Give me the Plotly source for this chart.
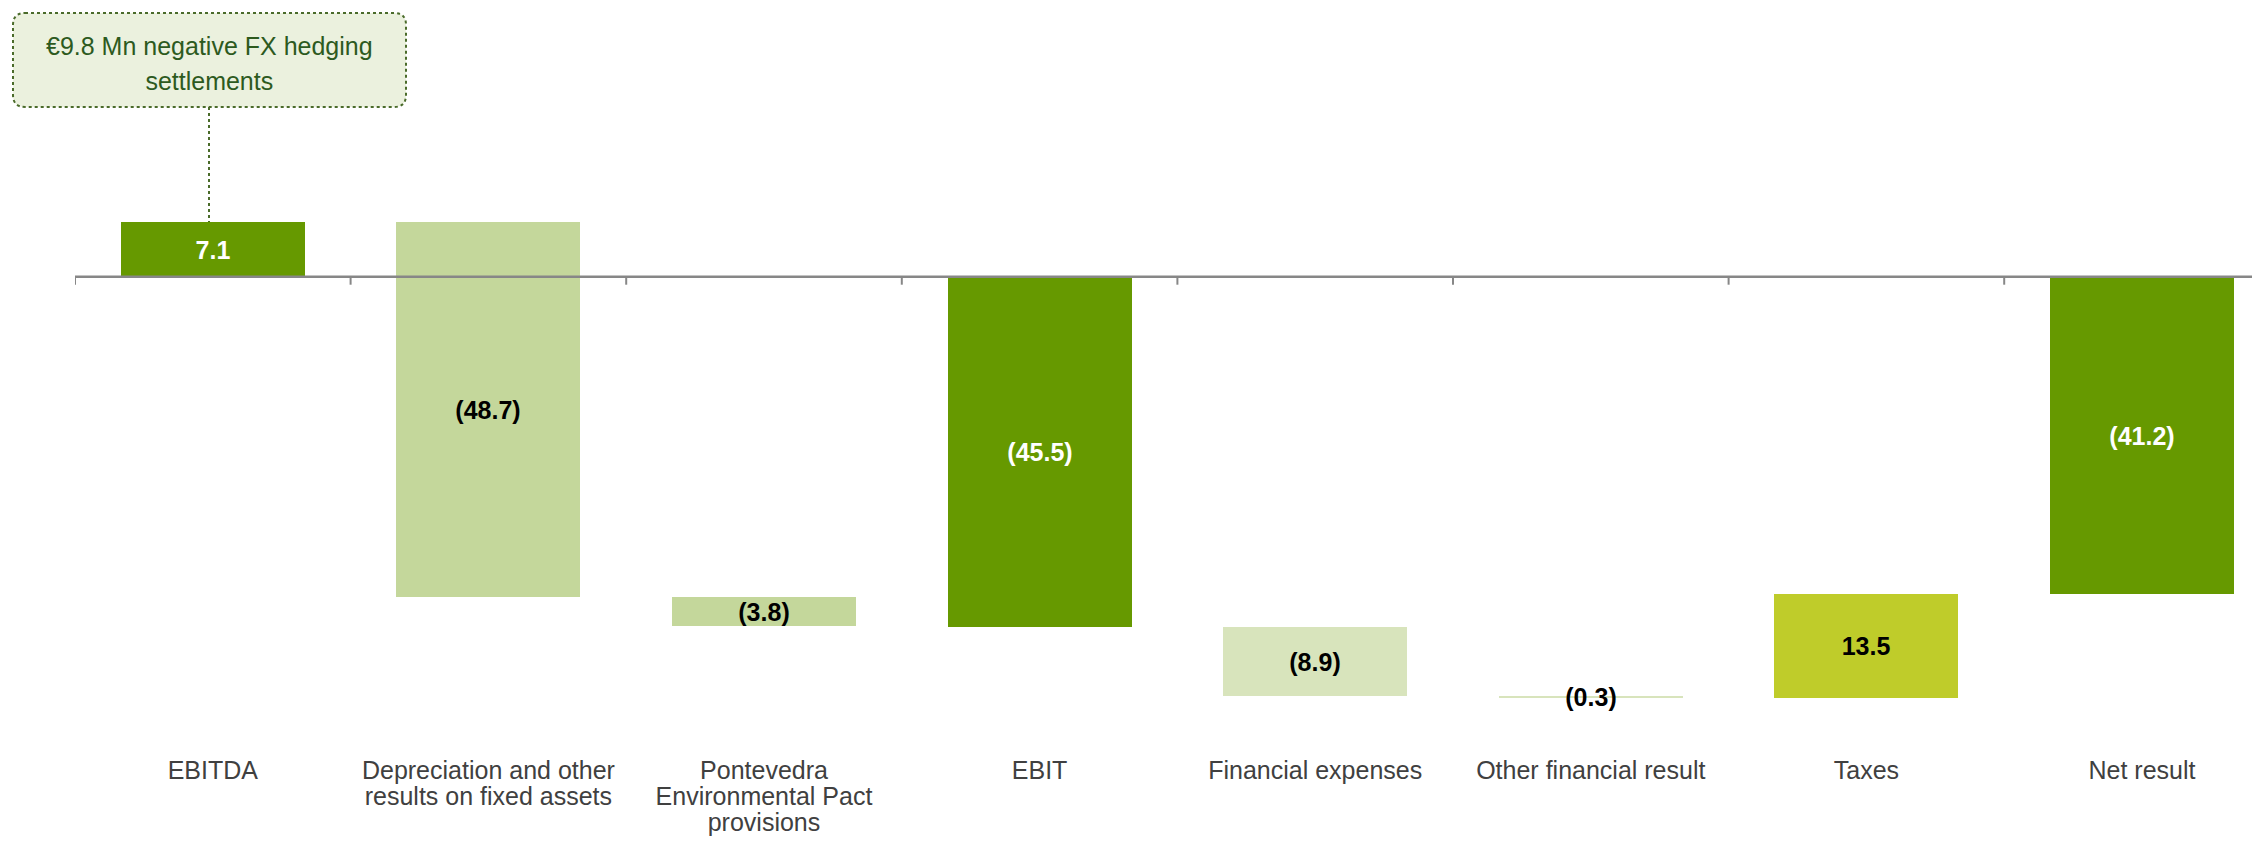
import plotly.graph_objects as go

# ---------------- data ----------------
categories = [
    ["EBITDA"],
    ["Depreciation and other", "results on fixed assets"],
    ["Pontevedra", "Environmental Pact", "provisions"],
    ["EBIT"],
    ["Financial expenses"],
    ["Other financial result"],
    ["Taxes"],
    ["Net result"],
]
values = [7.1, -48.7, -3.8, -45.5, -8.9, -0.3, 13.5, -41.2]
measures = ["total", "relative", "relative", "total", "relative", "relative", "relative", "total"]
bar_colors = ["#669900", "#C4D79B", "#C4D79B", "#669900", "#D8E4BC", "#D8E4BC", "#BFCC2A", "#669900"]
label_colors = ["white", "black", "black", "white", "black", "black", "black", "white"]
note_lines = ["€9.8 Mn negative FX hedging", "settlements"]

# ---------------- waterfall bases ----------------
bases = []
cum = 0.0
for v, m in zip(values, measures):
    if m == "total":
        bases.append(0.0)
        cum = v
    else:
        bases.append(cum)
        cum += v

labels = [f"({abs(v):.1f})" if v < 0 else f"{v:.1f}" for v in values]


def tight(lines, size):
    """Wrap each line in a sized span so the base font controls line spacing."""
    return "<br>".join(f'<span style="font-size:{size}px">{t}</span>' for t in lines)


# ---------------- layout geometry (page pixels) ----------------
OFF = 8                   # browser default body margin
PAGE_W, PAGE_H = 2260, 843
W, H = PAGE_W - OFF, PAGE_H - OFF
plot_left_pg, plot_right_pg = 75, 2260
plot_top_pg, plot_bot_pg = 20, 758
L = plot_left_pg - OFF
R = W - (plot_right_pg - OFF)
T = plot_top_pg - OFF
B = H - (plot_bot_pg - OFF)
plot_w = plot_right_pg - plot_left_pg
plot_h = plot_bot_pg - plot_top_pg
zero_pg = 276.7           # page y of the zero line
k = 7.7                   # px per unit
y_top = (zero_pg - plot_top_pg) / k
y_bot = -(plot_bot_pg - zero_pg) / k
cat_w = 275.6
x_max = -0.5 + plot_w / cat_w

def px_x(p):
    return (p - plot_left_pg) / plot_w

def px_y(p):
    return (plot_bot_pg - p) / plot_h

def px_to_data_y(p):
    return (zero_pg - p) / k

SANS = "Liberation Sans, Arial, sans-serif"

fig = go.Figure()
fig.add_trace(go.Bar(
    x=list(range(len(categories))),
    y=values,
    base=bases,
    width=0.667,
    marker=dict(color=bar_colors, line=dict(width=0)),
    text=labels,
    textposition="inside",
    insidetextanchor="middle",
    constraintext="none",
    textangle=0,
    textfont=dict(family=SANS, size=25, color=label_colors, weight="bold"),
    hoverinfo="skip",
    cliponaxis=False,
))

shapes = []
# zero (axis) line
shapes.append(dict(type="line", xref="paper", yref="y", x0=0, x1=1, y0=0, y1=0,
                   line=dict(color="#878787", width=2.5), layer="above"))
# tick marks at category boundaries
for i in range(len(categories)):
    shapes.append(dict(type="line", xref="x", yref="y", ysizemode="pixel", yanchor=0,
                       x0=i - 0.5, x1=i - 0.5, y0=0, y1=-8,
                       line=dict(color="#878787", width=2), layer="above"))

# rounded, dotted note box
bx0, bx1, by0, by1 = 13, 406, 13, 107
rad = 12
X0, X1 = px_x(bx0), px_x(bx1)
Y0, Y1 = px_y(by1), px_y(by0)   # bottom, top in paper
rx, ry = rad / plot_w, rad / plot_h
path = (f"M {X0+rx},{Y1} L {X1-rx},{Y1} Q {X1},{Y1} {X1},{Y1-ry} "
        f"L {X1},{Y0+ry} Q {X1},{Y0} {X1-rx},{Y0} "
        f"L {X0+rx},{Y0} Q {X0},{Y0} {X0},{Y0+ry} "
        f"L {X0},{Y1-ry} Q {X0},{Y1} {X0+rx},{Y1} Z")
shapes.append(dict(type="path", xref="paper", yref="paper", path=path,
                   fillcolor="#EBF1DE", line=dict(color="#4A6B2A", width=2, dash="dot"),
                   layer="above"))
# connector from box to EBITDA bar
cx = px_x(209)
shapes.append(dict(type="line", xref="paper", yref="y", x0=cx, x1=cx,
                   y0=px_to_data_y(by1), y1=bases[0] + values[0],
                   line=dict(color="#4A6B2A", width=2, dash="dot")))

fig.update_layout(
    width=W, height=H,
    margin=dict(l=L, r=R, t=T, b=B, pad=0, autoexpand=False),
    paper_bgcolor="white", plot_bgcolor="white",
    showlegend=False,
    bargap=0,
    shapes=shapes,
    annotations=[dict(
        xref="paper", yref="paper", x=px_x((bx0 + bx1) / 2), y=px_y((by0 + by1) / 2 + 3),
        text=tight(note_lines, 25), showarrow=False, xanchor="center", yanchor="middle",
        font=dict(family=SANS, size=27, color="#2D5A1E"), align="center",
    )],
    xaxis=dict(
        range=[-0.5, x_max],
        tickmode="array",
        tickvals=list(range(len(categories))),
        ticktext=[tight(c, 25) for c in categories],
        showline=False, showgrid=False, zeroline=False, ticks="",
        automargin=False,
        tickfont=dict(family=SANS, size=20, color="#404040"),
        fixedrange=True,
    ),
    yaxis=dict(
        range=[y_bot, y_top],
        visible=False, showgrid=False, zeroline=False,
        automargin=False,
        fixedrange=True,
    ),
)

fig.write_html("out.html")
